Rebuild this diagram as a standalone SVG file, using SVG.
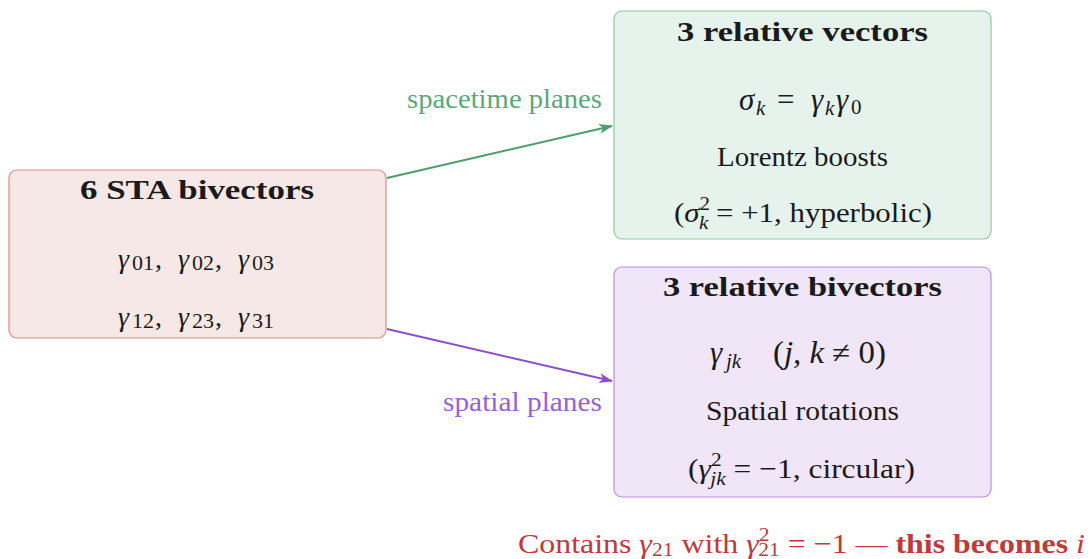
<svg xmlns="http://www.w3.org/2000/svg" width="1091" height="559" viewBox="0 0 1091 559" font-family="'Liberation Serif', 'Times New Roman', Times, 'DejaVu Serif', serif">
<defs>
<style>
text{font-family:'Liberation Serif','Times New Roman',Times,'DejaVu Serif',serif;font-size:28px;fill:#1a1a1a}
.t{font-weight:bold;font-size:28px}
.i{font-style:italic}
.s{font-size:19px}
.m{font-size:31px}
.ms{font-size:21px}
.d{font-size:22px}
.node{stroke-width:1.2}
.r{fill:#c0393b}
</style>
<marker id="ag" viewBox="0 0 14 10" refX="13" refY="5" markerWidth="14" markerHeight="10" markerUnits="userSpaceOnUse" orient="auto"><path d="M0,0 L14,5 L0,10 L4,5 Z" fill="#4a9e6a"/></marker>
<marker id="ap" viewBox="0 0 14 10" refX="13" refY="5" markerWidth="14" markerHeight="10" markerUnits="userSpaceOnUse" orient="auto"><path d="M0,0 L14,5 L0,10 L4,5 Z" fill="#8a4fcf"/></marker>
</defs>
<rect width="1091" height="559" fill="#ffffff"/>
<g id="connectors">
<line x1="387" y1="178" x2="612" y2="126" stroke="#4a9e6a" stroke-width="2" marker-end="url(#ag)"/>
<line x1="387" y1="329" x2="612" y2="381" stroke="#8a4fcf" stroke-width="2" marker-end="url(#ap)"/>
<text x="407" y="108" textLength="195" lengthAdjust="spacingAndGlyphs" style="fill:#5aa878">spacetime planes</text>
<text x="443" y="411" textLength="159" lengthAdjust="spacingAndGlyphs" style="fill:#9a60d8">spatial planes</text>
</g>
<g id="sta">
<rect class="node" x="9" y="170" width="377" height="168" rx="8" fill="#f7e8e8" stroke="#dc8c8c"/>
<text class="t" x="80" y="199" textLength="234" lengthAdjust="spacingAndGlyphs">6 STA bivectors</text>
<text y="268"><tspan class="i" x="118">γ</tspan><tspan class="d" x="132" dy="2">01</tspan><tspan x="155" dy="-2">,</tspan><tspan class="i" x="178">γ</tspan><tspan class="d" x="192" dy="2">02</tspan><tspan x="215" dy="-2">,</tspan><tspan class="i" x="238">γ</tspan><tspan class="d" x="252" dy="2">03</tspan></text>
<text y="326"><tspan class="i" x="118">γ</tspan><tspan class="d" x="132" dy="2">12</tspan><tspan x="155" dy="-2">,</tspan><tspan class="i" x="178">γ</tspan><tspan class="d" x="192" dy="2">23</tspan><tspan x="215" dy="-2">,</tspan><tspan class="i" x="238">γ</tspan><tspan class="d" x="252" dy="2">31</tspan></text>
</g>
<g id="vectors">
<rect class="node" x="614" y="11" width="377" height="228" rx="8" fill="#e6f2ec" stroke="#90c8a4"/>
<text class="t" x="677" y="41" textLength="251" lengthAdjust="spacingAndGlyphs">3 relative vectors</text>
<text y="110"><tspan class="i m" x="739">σ</tspan><tspan class="ms i" x="756" dy="5">k</tspan><tspan class="m" x="777" dy="-5">=</tspan><tspan class="i m" x="811">γ</tspan><tspan class="ms i" x="825" dy="5">k</tspan><tspan class="i m" x="836" dy="-5">γ</tspan><tspan class="ms" x="851" dy="4">0</tspan></text>
<text x="717" y="166" textLength="171" lengthAdjust="spacingAndGlyphs">Lorentz boosts</text>
<text x="674" y="222" textLength="258" lengthAdjust="spacingAndGlyphs">(<tspan class="i">σ</tspan><tspan class="s" dy="-12">2</tspan><tspan class="s i" dx="-10" dy="19">k</tspan><tspan dy="-7"> = +1, hyperbolic)</tspan></text>
</g>
<g id="bivectors">
<rect class="node" x="614" y="267" width="377" height="230" rx="8" fill="#f0e6f7" stroke="#b890e0"/>
<text class="t" x="663" y="296" textLength="279" lengthAdjust="spacingAndGlyphs">3 relative bivectors</text>
<text y="363"><tspan class="i m" x="710">γ</tspan><tspan class="ms i" x="726" dy="5">jk</tspan></text>
<text class="m" x="773" y="363" textLength="113" lengthAdjust="spacingAndGlyphs">(<tspan class="i">j, k</tspan> ≠ 0)</text>
<text x="706" y="420" textLength="193" lengthAdjust="spacingAndGlyphs">Spatial rotations</text>
<text x="688" y="478" textLength="227" lengthAdjust="spacingAndGlyphs">(<tspan class="i">γ</tspan><tspan class="s" dy="-12">2</tspan><tspan class="s i" dx="-10" dy="19">jk</tspan><tspan dy="-7"> = −1, circular)</tspan></text>
</g>
<g id="note">
<text class="r" x="518" y="553" textLength="567" lengthAdjust="spacingAndGlyphs">Contains <tspan class="i r">γ</tspan><tspan class="s r" dy="3">21</tspan><tspan class="r" dy="-3"> with </tspan><tspan class="i r">γ</tspan><tspan class="s r" dy="-12">2</tspan><tspan class="s r" dx="-10" dy="15">21</tspan><tspan class="r" dy="-3"> = −1  —  </tspan><tspan class="r" font-weight="bold">this becomes </tspan><tspan class="i r">i</tspan></text>
</g>
</svg>
